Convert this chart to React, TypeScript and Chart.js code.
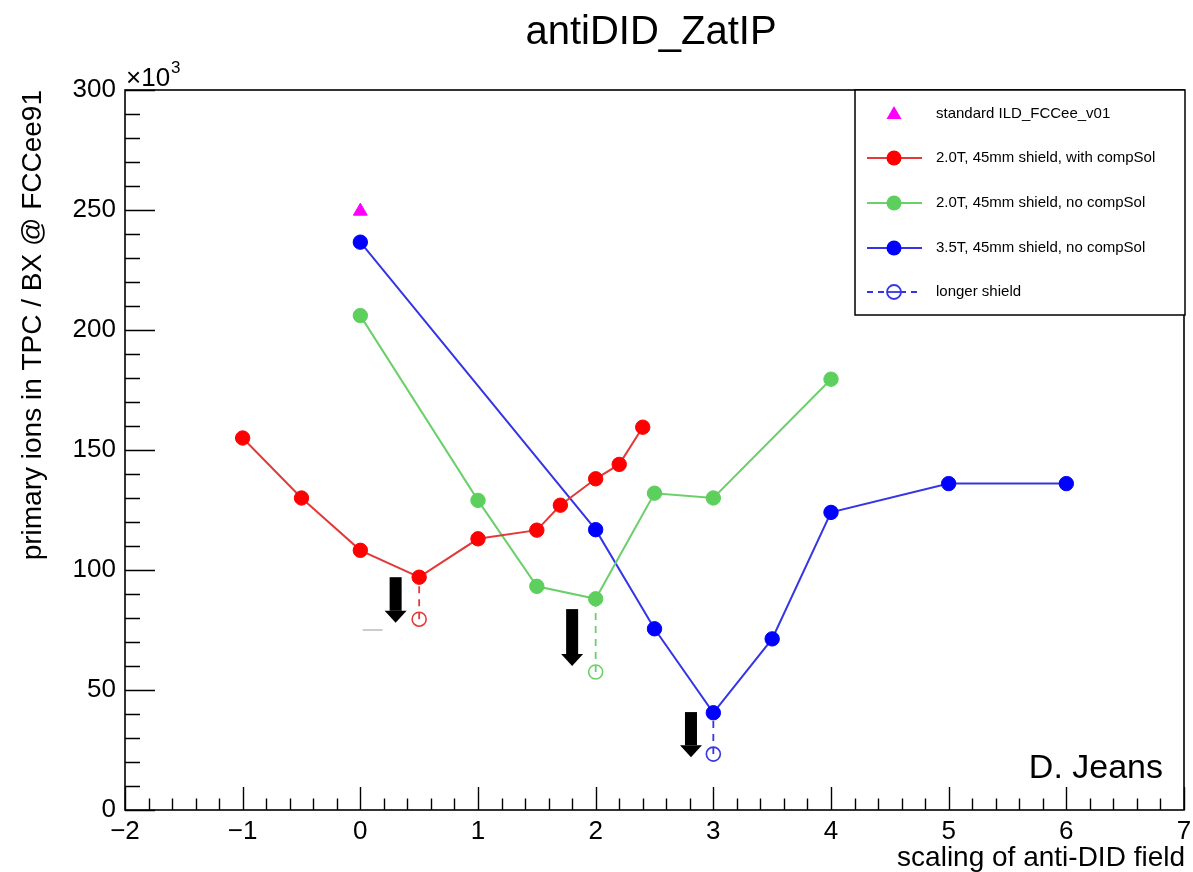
import React, { useEffect, useRef } from "react";
import { Chart, registerables } from "chart.js";

Chart.register(...registerables);

// ---- data ----
const redX = [-1, -0.5, 0, 0.5, 1, 1.5, 1.7, 2, 2.2, 2.4];
const redY = [155, 130, 108.2, 97, 113, 116.6, 127, 138, 144, 159.5];
const greenX = [0, 1, 1.5, 2, 2.5, 3, 4];
const greenY = [206, 129, 93.2, 88, 132, 130, 179.5];
const blueX = [0, 2, 2.5, 3, 3.5, 4, 5, 6];
const blueY = [236.6, 116.8, 75.5, 40.5, 71.3, 124, 136, 136];
const standardX = [0];
const standardY = [249.5];
// longer shield: baseline point -> longer-shield point
const longRedX = [0.5, 0.5];
const longRedY = [97, 79.5];
const longGreenX = [2, 2];
const longGreenY = [88, 57.5];
const longBlueX = [3, 3];
const longBlueY = [40.5, 23.3];
// arrows: x, top, tip (data units)
const arrowX = [0.3, 1.8, 2.81];
const arrowTop = [97, 83.7, 40.8];
const arrowTip = [78, 60, 22];

const xTickValues = [-2, -1, 0, 1, 2, 3, 4, 5, 6, 7];
const yTickValues = [0, 50, 100, 150, 200, 250, 300];

const legendLabels = [
  "standard ILD_FCCee_v01",
  "2.0T, 45mm shield, with compSol",
  "2.0T, 45mm shield, no compSol",
  "3.5T, 45mm shield, no compSol",
  "longer shield",
];

const FONT = "'Liberation Sans', Arial, Helvetica, sans-serif";
const RED = "#ff0000";
const RED_LINE = "#e23a3a";
const GREEN = "#5ccf5c";
const GREEN_LINE = "#6bd06b";
const BLUE = "#0000ff";
const BLUE_LINE = "#3535e6";
const MAGENTA = "#ff00ff";

const pts = (xs: number[], ys: number[]) => xs.map((x, i) => ({ x, y: ys[i] }));

const decorPlugin = {
  id: "decor",
  afterDatasetsDraw(chart: any) {
    const ctx = chart.ctx as CanvasRenderingContext2D;
    const { left, right, top, bottom } = chart.chartArea;
    const xs = chart.scales.x;
    const ys = chart.scales.y;
    ctx.save();
    // arrows
    ctx.fillStyle = "#000";
    for (let i = 0; i < arrowX.length; i++) {
      const px = xs.getPixelForValue(arrowX[i]);
      const pt = ys.getPixelForValue(arrowTop[i]);
      const ptip = ys.getPixelForValue(arrowTip[i]);
      const headLen = 12;
      ctx.fillRect(px - 6, pt, 12, ptip - headLen - pt);
      ctx.beginPath();
      ctx.moveTo(px - 11, ptip - headLen);
      ctx.lineTo(px + 11, ptip - headLen);
      ctx.lineTo(px, ptip);
      ctx.closePath();
      ctx.fill();
    }
    // stray small mark
    ctx.strokeStyle = "#bbbbbb";
    ctx.lineWidth = 1.5;
    ctx.beginPath();
    ctx.moveTo(xs.getPixelForValue(0.02), ys.getPixelForValue(75));
    ctx.lineTo(xs.getPixelForValue(0.19), ys.getPixelForValue(75));
    ctx.stroke();

    // frame
    ctx.strokeStyle = "#000";
    ctx.lineWidth = 1.6;
    ctx.strokeRect(left, top, right - left, bottom - top);
    // y ticks
    ctx.lineWidth = 1.4;
    ctx.beginPath();
    for (let v = 0; v <= 300; v += 10) {
      const py = Math.round(ys.getPixelForValue(v)) + 0.5;
      const len = v % 50 === 0 ? 30 : 15;
      ctx.moveTo(left, py);
      ctx.lineTo(left + len, py);
    }
    // x ticks
    for (let k = 0; k <= 45; k++) {
      const v = -2 + k * 0.2;
      const px = Math.round(xs.getPixelForValue(v)) + 0.5;
      const len = k % 5 === 0 ? 23 : 11.5;
      ctx.moveTo(px, bottom);
      ctx.lineTo(px, bottom - len);
    }
    ctx.stroke();

    // legend
    const lx0 = 855, ly0 = 90, lx1 = 1185, ly1 = 315;
    ctx.fillStyle = "#fff";
    ctx.fillRect(lx0, ly0, lx1 - lx0, ly1 - ly0);
    ctx.strokeStyle = "#000";
    ctx.lineWidth = 1.5;
    ctx.strokeRect(lx0, ly0, lx1 - lx0, ly1 - ly0);
    const rowY = [114, 158, 203, 248, 292];
    const mx = 894;
    ctx.font = `15px ${FONT}`;
    ctx.textBaseline = "middle";
    ctx.textAlign = "left";
    for (let i = 0; i < legendLabels.length; i++) {
      const y = rowY[i];
      if (i === 0) {
        ctx.fillStyle = MAGENTA;
        ctx.beginPath();
        ctx.moveTo(mx, y - 8);
        ctx.lineTo(mx + 7.5, y + 5);
        ctx.lineTo(mx - 7.5, y + 5);
        ctx.closePath();
        ctx.fill();
      } else if (i < 4) {
        const lc = [RED_LINE, GREEN_LINE, BLUE_LINE][i - 1];
        const mc = [RED, GREEN, BLUE][i - 1];
        ctx.strokeStyle = lc;
        ctx.lineWidth = 2;
        ctx.beginPath();
        ctx.moveTo(867, y);
        ctx.lineTo(922, y);
        ctx.stroke();
        ctx.fillStyle = mc;
        ctx.beginPath();
        ctx.arc(mx, y, 7.5, 0, Math.PI * 2);
        ctx.fill();
      } else {
        ctx.strokeStyle = BLUE_LINE;
        ctx.lineWidth = 1.8;
        ctx.setLineDash([6, 5]);
        ctx.beginPath();
        ctx.moveTo(867, y);
        ctx.lineTo(922, y);
        ctx.stroke();
        ctx.setLineDash([]);
        ctx.fillStyle = "#fff";
        ctx.beginPath();
        ctx.arc(mx, y, 7, 0, Math.PI * 2);
        ctx.fill();
        ctx.stroke();
        ctx.beginPath();
        ctx.moveTo(mx - 7, y);
        ctx.lineTo(mx + 7, y);
        ctx.stroke();
      }
      ctx.fillStyle = "#000";
      ctx.fillText(legendLabels[i], 936, y);
    }

    // texts
    ctx.fillStyle = "#000";
    ctx.textBaseline = "alphabetic";
    ctx.textAlign = "center";
    ctx.font = `40px ${FONT}`;
    ctx.fillText("antiDID_ZatIP", 651, 44);

    ctx.textAlign = "right";
    ctx.font = `28px ${FONT}`;
    ctx.fillText("scaling of anti-DID field", 1185, 866);

    ctx.font = `34px ${FONT}`;
    ctx.fillText("D. Jeans", 1163, 778);

    ctx.textAlign = "left";
    ctx.font = `26px ${FONT}`;
    ctx.fillText("\u00d710", 126, 86);
    const w = ctx.measureText("\u00d710").width;
    ctx.font = `17px ${FONT}`;
    ctx.fillText("3", 126 + w + 1, 73);

    ctx.save();
    ctx.translate(41, top);
    ctx.rotate(-Math.PI / 2);
    ctx.textAlign = "right";
    ctx.font = `28px ${FONT}`;
    ctx.fillText("primary ions in TPC / BX @ FCCee91", 0, 0);
    ctx.restore();

    ctx.restore();
  },
};

export default function App() {
  const ref = useRef<HTMLCanvasElement | null>(null);
  useEffect(() => {
    if (!ref.current) return;
    const mainDs = (label: string, xs: number[], ys: number[], lc: string, mc: string) => ({
      label,
      data: pts(xs, ys),
      borderColor: lc,
      borderWidth: 2,
      backgroundColor: mc,
      pointBackgroundColor: mc,
      pointBorderColor: mc,
      pointBorderWidth: 1,
      pointRadius: 7.2,
      pointStyle: "circle",
      showLine: true,
      tension: 0,
      order: 1,
    });
    const DASH = 7, GAP = 6;
    const longDs = (xs: number[], ys: number[], lc: string) => ({
      label: "longer shield",
      data: pts(xs, ys),
      borderColor: lc,
      borderWidth: 1.8,
      borderDash: [DASH, GAP],
      borderDashOffset: (c: any) => {
        const s = c.chart && c.chart.scales && c.chart.scales.y;
        if (!s) return 0;
        const L = Math.abs(s.getPixelForValue(ys[0]) - s.getPixelForValue(ys[1]));
        const P = DASH + GAP;
        return (((DASH - L) % P) + P) % P;
      },
      backgroundColor: "rgba(0,0,0,0)",
      pointBackgroundColor: "rgba(0,0,0,0)",
      pointBorderColor: lc,
      pointBorderWidth: 1.6,
      pointRadius: [0, 7],
      showLine: true,
      tension: 0,
      order: 3,
    });
    const chart = new Chart(ref.current, {
      type: "line",
      data: {
        datasets: [
          {
            label: legendLabels[0],
            data: pts(standardX, standardY),
            showLine: false,
            pointStyle: "triangle",
            pointRadius: 8,
            pointBackgroundColor: MAGENTA,
            pointBorderColor: MAGENTA,
            backgroundColor: MAGENTA,
            borderColor: MAGENTA,
            order: 0,
          } as any,
          mainDs(legendLabels[1], redX, redY, RED_LINE, RED),
          mainDs(legendLabels[2], greenX, greenY, GREEN_LINE, GREEN),
          mainDs(legendLabels[3], blueX, blueY, BLUE_LINE, BLUE),
          longDs(longRedX, longRedY, RED_LINE),
          longDs(longGreenX, longGreenY, GREEN_LINE),
          longDs(longBlueX, longBlueY, BLUE_LINE),
        ],
      },
      options: {
        animation: false,
        responsive: false,
        layout: { padding: { top: 90, right: 8, left: 0, bottom: 0 } },
        plugins: {
          legend: { display: false },
          title: { display: false },
          tooltip: { enabled: false },
        },
        scales: {
          x: {
            type: "linear",
            min: -2,
            max: 7,
            afterFit: (s: any) => {
              s.height = 62;
              s.paddingLeft = 0;
              s.paddingRight = 0;
            },
            afterBuildTicks: (s: any) => {
              s.ticks = xTickValues.map((v) => ({ value: v }));
            },
            ticks: {
              padding: 6,
              font: { family: FONT, size: 26 },
              color: "#000",
              callback: (v: any) => String(v).replace("-", "\u2212"),
              maxRotation: 0,
              autoSkip: false,
            },
            grid: { display: false, drawTicks: false },
            border: { display: false },
          },
          y: {
            type: "linear",
            min: 0,
            max: 300,
            afterFit: (s: any) => {
              s.width = 125;
              s.paddingTop = 0;
              s.paddingBottom = 0;
            },
            afterBuildTicks: (s: any) => {
              s.ticks = yTickValues.map((v) => ({ value: v }));
            },
            ticks: {
              padding: 9,
              font: { family: FONT, size: 26 },
              color: "#000",
              autoSkip: false,
            },
            grid: { display: false, drawTicks: false },
            border: { display: false },
          },
        },
      },
      plugins: [decorPlugin],
    } as any);
    return () => chart.destroy();
  }, []);
  return (
    <div style={{ position: "absolute", left: 0, top: 0, width: 1193, height: 872, background: "#fff" }}>
      <canvas ref={ref} width={1193} height={872} style={{ display: "block" }} />
    </div>
  );
}
